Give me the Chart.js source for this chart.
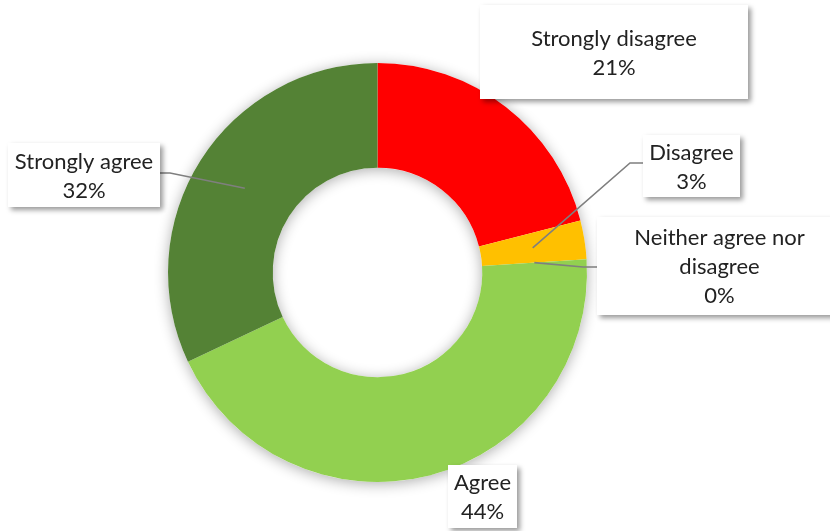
<!DOCTYPE html>
<html>
<head>
<meta charset="utf-8">
<script src="https://cdn.jsdelivr.net/npm/chart.js@4.4.1/dist/chart.umd.min.js"></script>
<style>
  html, body { margin: 0; padding: 0; background: #fff; }
  #wrap { width: 830px; height: 531px; position: relative; }
</style>
</head>
<body>
<div id="wrap"><canvas id="survey-chart"></canvas></div>
<script>
const categories = ['Strongly disagree', 'Disagree', 'Neither agree nor disagree', 'Agree', 'Strongly agree'];
const percents = [21, 3, 0, 44, 32];
const sliceColors = ['#ff0000', '#ffc000', '#a5a5a5', '#92d050', '#548235'];

// callout boxes (x, y, w, h), optional leader bend + end point, wrap width for the text
const callouts = [
  { box: [480, 5, 268, 94], wrap: 260 },
  { box: [643, 135, 97, 62], bend: [630, 163], end: [643, 163], wrap: 95 },
  { box: [597, 217, 245, 98], bend: [583, 267], end: [597, 267], wrap: 195 },
  { box: [448, 465, 69, 63], wrap: 68 },
  { box: [8, 143, 152, 64], bend: [170, 173], end: [160, 173], wrap: 150 }
];

const FONT = '22px Lato, "Open Sans", sans-serif';
const LINE_H = 29;

function wrapText(ctx, text, maxW) {
  const words = text.split(' ');
  const lines = [];
  let cur = '';
  words.forEach(w => {
    const test = cur ? cur + ' ' + w : w;
    if (cur && ctx.measureText(test).width > maxW) {
      lines.push(cur);
      cur = w;
    } else {
      cur = test;
    }
  });
  if (cur) lines.push(cur);
  return lines;
}

// soft shadow under the whole ring (also falls into the hole)
const ringShadow = {
  id: 'ringShadow',
  beforeDatasetsDraw(chart) {
    const arc = chart.getDatasetMeta(0).data[0];
    if (!arc) return;
    const { x, y, outerRadius, innerRadius } = arc.getProps(['x', 'y', 'outerRadius', 'innerRadius'], true);
    const ctx = chart.ctx;
    ctx.save();
    ctx.shadowColor = 'rgba(0,0,0,0.32)';
    ctx.shadowBlur = 14;
    ctx.shadowOffsetY = 2;
    ctx.fillStyle = '#fff';
    ctx.beginPath();
    ctx.arc(x, y, outerRadius, 0, Math.PI * 2);
    ctx.arc(x, y, innerRadius, Math.PI * 2, 0, true);
    ctx.closePath();
    ctx.fill();
    ctx.restore();
  }
};

// callout boxes with leader lines
const calloutLabels = {
  id: 'calloutLabels',
  afterDatasetsDraw(chart) {
    const ctx = chart.ctx;
    const meta = chart.getDatasetMeta(0);
    ctx.save();
    ctx.font = FONT;

    // leaders first so the boxes sit on top
    callouts.forEach((c, i) => {
      if (!c.bend) return;
      const p = meta.data[i].tooltipPosition(true);
      ctx.strokeStyle = '#7f7f7f';
      ctx.lineWidth = 1.6;
      ctx.beginPath();
      ctx.moveTo(p.x, p.y);
      ctx.lineTo(c.bend[0], c.bend[1]);
      ctx.lineTo(c.end[0], c.end[1]);
      ctx.stroke();
    });

    callouts.forEach((c, i) => {
      const [bx, by, bw, bh] = c.box;
      ctx.save();
      ctx.shadowColor = 'rgba(0,0,0,0.4)';
      ctx.shadowBlur = 5;
      ctx.shadowOffsetX = 3;
      ctx.shadowOffsetY = 3;
      ctx.fillStyle = '#fff';
      ctx.fillRect(bx, by, bw, bh);
      ctx.restore();

      const lines = wrapText(ctx, categories[i], c.wrap);
      lines.push(percents[i] + '%');
      const cx = bx + bw / 2;
      const cy = by + bh / 2 + 1;
      const top = cy - (lines.length - 1) * LINE_H / 2;
      ctx.fillStyle = '#222';
      ctx.textAlign = 'center';
      ctx.textBaseline = 'middle';
      lines.forEach((t, k) => ctx.fillText(t, cx, top + k * LINE_H));
    });
    ctx.restore();
  }
};

new Chart(document.getElementById('survey-chart'), {
  type: 'doughnut',
  data: {
    labels: categories,
    datasets: [{
      data: percents,
      backgroundColor: sliceColors,
      borderWidth: 0
    }]
  },
  options: {
    responsive: true,
    maintainAspectRatio: false,
    animation: false,
    cutout: '50%',
    layout: { padding: { top: 63, bottom: 49, left: 168, right: 243 } },
    plugins: {
      legend: { display: false },
      tooltip: { enabled: false }
    }
  },
  plugins: [ringShadow, calloutLabels]
});
</script>
</body>
</html>
